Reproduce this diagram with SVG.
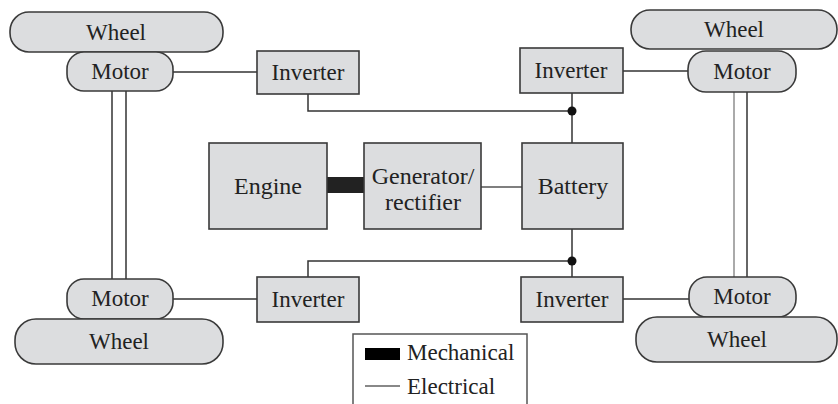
<svg xmlns="http://www.w3.org/2000/svg" width="838" height="404" viewBox="0 0 838 404" font-family="Liberation Serif, serif">
<style>
.box{fill:#dcdddf;stroke:#3a3a3a;stroke-width:1.6}
.t{font-family:'Liberation Serif',serif;font-size:23px;fill:#222;text-anchor:middle}
.tc{font-family:'Liberation Serif',serif;font-size:24px;fill:#222;text-anchor:middle}
.w{fill:none;stroke:#333;stroke-width:1.5}
.wl{fill:none;stroke:#aaa;stroke-width:2}
.lg{font-family:'Liberation Serif',serif;font-size:23px;fill:#222}
</style>
<rect width="838" height="404" fill="#fff"/>
<g id="connectors">
<line class="w" x1="173" y1="72" x2="257" y2="72"/>
<line class="w" x1="623" y1="71" x2="688" y2="71"/>
<line class="w" x1="173" y1="299" x2="257" y2="299"/>
<line class="w" x1="623" y1="299" x2="689" y2="299"/>
<polyline class="w" points="308,94 308,111 572,111"/>
<line class="w" x1="572" y1="93" x2="572" y2="143"/>
<line class="w" x1="572" y1="229" x2="572" y2="277"/>
<polyline class="w" points="308,277 308,261 572,261"/>
<circle cx="572" cy="111" r="4.5" fill="#111"/>
<circle cx="572" cy="261" r="4.5" fill="#111"/>
<line class="w" x1="112" y1="91" x2="112" y2="279"/>
<line class="w" x1="126" y1="91" x2="126" y2="279"/>
<line class="wl" x1="734" y1="92" x2="734" y2="277"/>
<line class="w" x1="747" y1="92" x2="747" y2="277"/>
<rect x="327" y="177" width="37" height="16" fill="#222"/>
<line x1="481" y1="187" x2="522" y2="187" stroke="#555" stroke-width="1.3"/>
</g>
<g id="wheel-tl"><rect class="box" x="10" y="12" width="213" height="40" rx="19"/><text class="t" x="116" y="40">Wheel</text></g>
<g id="motor-tl"><rect class="box" x="67" y="52" width="106" height="39" rx="17"/><text class="t" x="120" y="79">Motor</text></g>
<g id="inverter-tl"><rect class="box" x="257" y="51" width="102" height="43"/><text class="t" x="308" y="80">Inverter</text></g>
<g id="wheel-tr"><rect class="box" x="631" y="10" width="206" height="39" rx="19"/><text class="t" x="734" y="37">Wheel</text></g>
<g id="motor-tr"><rect class="box" x="688" y="51" width="108" height="41" rx="18"/><text class="t" x="742" y="79">Motor</text></g>
<g id="inverter-tr"><rect class="box" x="520" y="48" width="103" height="45"/><text class="t" x="571" y="78">Inverter</text></g>
<g id="engine"><rect class="box" x="209" y="143" width="118" height="86"/><text class="tc" x="268" y="194">Engine</text></g>
<g id="generator"><rect class="box" x="364" y="143" width="117" height="86"/><text class="tc" x="423" y="184">Generator/</text><text class="tc" x="423" y="210">rectifier</text></g>
<g id="battery"><rect class="box" x="522" y="143" width="101" height="86"/><text class="tc" x="573" y="194">Battery</text></g>
<g id="inverter-bl"><rect class="box" x="257" y="277" width="102" height="45"/><text class="t" x="308" y="307">Inverter</text></g>
<g id="motor-bl"><rect class="box" x="67" y="279" width="106" height="40" rx="17"/><text class="t" x="120" y="306">Motor</text></g>
<g id="wheel-bl"><rect class="box" x="15" y="319" width="208" height="45" rx="21"/><text class="t" x="119" y="349">Wheel</text></g>
<g id="inverter-br"><rect class="box" x="521" y="277" width="102" height="45"/><text class="t" x="572" y="307">Inverter</text></g>
<g id="motor-br"><rect class="box" x="689" y="277" width="107" height="40" rx="18"/><text class="t" x="742" y="304">Motor</text></g>
<g id="wheel-br"><rect class="box" x="636" y="317" width="201" height="45" rx="21"/><text class="t" x="737" y="347">Wheel</text></g>
<g id="legend">
<rect x="353" y="334" width="174" height="74" fill="#fff" stroke="#555" stroke-width="1.5"/>
<rect x="365" y="348" width="35" height="12" fill="#000"/>
<line x1="365" y1="386" x2="400" y2="386" stroke="#888" stroke-width="1.8"/>
<text class="lg" x="407" y="360">Mechanical</text>
<text class="lg" x="407" y="394">Electrical</text>
</g>
</svg>
